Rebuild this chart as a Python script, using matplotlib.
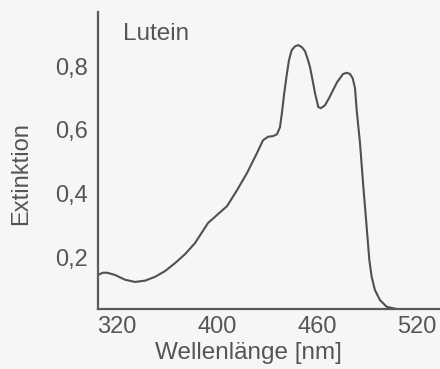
import matplotlib
matplotlib.use("Agg")
import matplotlib.pyplot as plt

# Lutein absorption spectrum
wavelength = [328.6, 331.6, 334.0, 338.8, 344.8, 350.8, 356.8, 362.8, 368.8, 374.8,
              380.8, 386.8, 394.6, 400.6, 406.0, 412.0, 418.0, 424.0, 427.6, 430.6,
              433.6, 436.0, 437.8, 439.0, 440.2, 441.8, 443.2, 444.8, 446.8, 448.8,
              451.0, 452.8, 454.6, 455.8, 457.6, 458.8, 460.8, 462.4, 464.8, 467.2,
              469.6, 472.0, 473.8, 475.6, 477.8, 479.8, 481.4, 482.8, 483.8, 485.8,
              487.8, 489.8, 491.4, 492.8, 494.8, 497.8, 501.8, 507.8]
extinktion = [0.144, 0.151, 0.151, 0.144, 0.129, 0.122, 0.126, 0.138, 0.156, 0.181,
              0.209, 0.244, 0.307, 0.335, 0.360, 0.410, 0.464, 0.527, 0.567, 0.578,
              0.580, 0.586, 0.608, 0.655, 0.709, 0.771, 0.819, 0.850, 0.862, 0.866,
              0.859, 0.847, 0.819, 0.797, 0.749, 0.715, 0.671, 0.668, 0.677, 0.699,
              0.724, 0.749, 0.762, 0.775, 0.779, 0.775, 0.762, 0.731, 0.662, 0.558,
              0.421, 0.295, 0.191, 0.138, 0.096, 0.065, 0.044, 0.037]

ytick_vals = [0.2, 0.4, 0.6, 0.8]
ytick_labels = ["0,2", "0,4", "0,6", "0,8"]
# the printed labels are evenly spaced, the first one does not match the scale
xtick_vals = [340, 400, 460, 520]
xtick_labels = ["320", "400", "460", "520"]

plt.rcParams['font.family'] = ['Liberation Sans', 'DejaVu Sans']
txt = '#555555'
bg = '#f6f6f4'

fig = plt.figure(figsize=(4.4, 3.69), dpi=100, facecolor=bg)
ax = fig.add_axes([0.2227, 0.1626, 0.7773, 0.805])
ax.set_facecolor(bg)

ax.plot(wavelength, extinktion, color='#505050', lw=1.5, solid_joinstyle='round')

ax.set_xlim(328.6, 533.8)
ax.set_ylim(0.037, 0.97)

for s in ['top', 'right']:
    ax.spines[s].set_visible(False)
for s in ['left', 'bottom']:
    ax.spines[s].set_color('#5a5a5a')
    ax.spines[s].set_linewidth(1.6)

ax.set_yticks(ytick_vals)
ax.set_yticklabels(ytick_labels)
ax.set_xticks(xtick_vals)
ax.set_xticklabels(xtick_labels)
ax.tick_params(axis='y', length=0, pad=7, labelsize=17, labelcolor=txt)
ax.tick_params(axis='x', length=0, pad=5, labelsize=17, labelcolor=txt)

ax.set_xlabel('Wellenlänge [nm]', fontsize=17.5, color=txt, va='center')
ax.xaxis.set_label_coords(0.4386, -0.148)
ax.set_ylabel('Extinktion', fontsize=17, color=txt, va='center')
ax.yaxis.set_label_coords(-0.225, 0.455)
ax.text(0.073, 0.925, 'Lutein', transform=ax.transAxes, fontsize=17.5, color=txt,
        ha='left', va='center')

fig.savefig('out.png', dpi=100, facecolor=bg)
